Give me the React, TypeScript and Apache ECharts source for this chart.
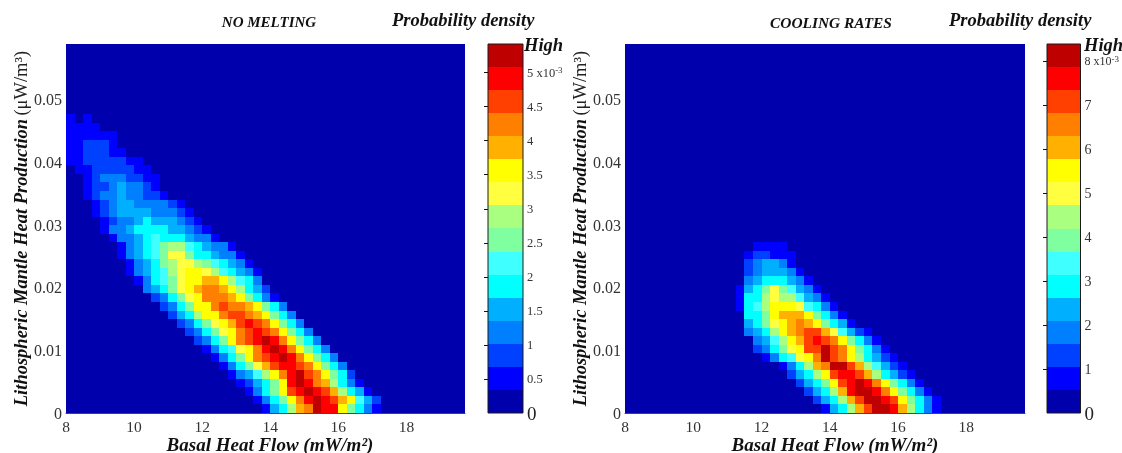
import React, { useEffect, useRef } from "react";
import * as echarts from "echarts";

const FONT = "'Liberation Serif', serif";

const palette = ["#0000ad", "#0000ff", "#0040ff", "#0080ff", "#00b0ff", "#00ffff", "#40ffff", "#80ffa0", "#a8ff80", "#ffff40", "#ffff00", "#ffb000", "#ff8000", "#ff4000", "#ff0000", "#bf0000"];

const xTicks = [8, 10, 12, 14, 16, 18];
const yTicks = [0, 0.01, 0.02, 0.03, 0.04, 0.05];
const X_MIN = 8;
const X_MAX = 19.72;
const Y_MAX = 0.0589;
const X_STEP = 0.25;
const Y_STEP = 0.001363;
const COLS = 47;
const ROWS = 44;

// Each row, bottom to top: first coloured column and the colour level (hex) of each following cell.
const noMeltingRows: [number, string][] = [
  [23, "1458BCFEEA7531"],
  [22, "1357ACEFEDBA642"],
  [21, "1357ADEFEDB8541"],
  [20, "12457AEFECB8531"],
  [19, "13468ACEFDCA752"],
  [18, "13579BDEEDCA753"],
  [17, "1357ACDEFECA753"],
  [16, "13569ACEFECA753"],
  [15, "2357ACDEFECA753"],
  [14, "23579ACDEDCA753"],
  [13, "23579ABDEDCA753"],
  [12, "2458AACDDCBA753"],
  [11, "2357AACDCCBA753"],
  [10, "23579ACCCBA7531"],
  [9, "34579ABCCBA8542"],
  [8, "135679AABBA8653"],
  [7, "1345689AA9865431"],
  [7, "134578998765431"],
  [6, "134567997554331"],
  [6, "13456788654331"],
  [5, "1334565554331"],
  [4, "1334555544321"],
  [4, "123345444321"],
  [3, "123444433321"],
  [3, "12344333321"],
  [2, "1233433221"],
  [2, "122343321"],
  [2, "123332211"],
  [1, "112222211"],
  [0, "112222211"],
  [0, "1122211"],
  [0, "112221"],
  [0, "111111"],
  [0, "1111"],
  [0, "101"],
];

const coolingRows: [number, string][] = [
  [23, "1458BDFFEB8531"],
  [22, "2458BDFFEDA7531"],
  [21, "2458BEFFECA7531"],
  [20, "2457ADEFECA7531"],
  [19, "2458ADEEDB85421"],
  [18, "1358BCFFDB86421"],
  [16, "13569ACFDCA85421"],
  [15, "23579ADDFDCA7531"],
  [15, "3468ABDEDCA7531"],
  [14, "3458ABCDDB96421"],
  [14, "4579ABCBA7541"],
  [14, "557ABBBA7531"],
  [13, "1568AAA96531"],
  [13, "15589886431"],
  [13, "1457976431"],
  [14, "34555431"],
  [14, "2344431"],
  [14, "234431"],
  [14, "122111"],
  [15, "1111"],
];

const leftBarTicks = [0, 0.5, 1, 1.5, 2, 2.5, 3, 3.5, 4, 4.5, 5];
const rightBarTicks = [0, 1, 2, 3, 4, 5, 6, 7, 8];
const LEFT_BAR_MAX = 5.42;
const RIGHT_BAR_MAX = 8.39;

const X_TITLE = "Basal Heat Flow (mW/m²)";
const Y_TITLE = "{a|Lithospheric Mantle Heat Production} {b|(μW/m³)}";
const labels = {
  leftTitle: "NO MELTING",
  rightTitle: "COOLING RATES",
  legend: "Probability density",
  high: "High",
};

function cells(rows: [number, string][]) {
  const out: number[][] = [];
  for (let r = 0; r < ROWS; r++) {
    const row = rows[r];
    for (let c = 0; c < COLS; c++) {
      let lvl = 0;
      if (row) {
        const i = c - row[0];
        if (i >= 0 && i < row[1].length) lvl = parseInt(row[1][i], 16);
      }
      out.push([X_MIN + c * X_STEP, r * Y_STEP, lvl]);
    }
  }
  return out;
}

function rectRender(dx: number, dy: number) {
  return (params: any, api: any) => {
    const a = api.coord([api.value(0), api.value(1)]);
    const b = api.coord([api.value(0) + dx, api.value(1) + dy]);
    const x0 = Math.round(a[0]);
    const x1 = Math.round(b[0]);
    const y0 = Math.round(a[1]);
    const y1 = Math.round(b[1]);
    return {
      type: "rect",
      shape: { x: x0, y: y1, width: x1 - x0, height: y0 - y1 },
      style: { fill: palette[api.value(2)], stroke: null },
    };
  };
}

function buildOption() {
  const grid: any[] = [];
  const xAxis: any[] = [];
  const yAxis: any[] = [];
  const series: any[] = [];

  const addPlot = (left: number, width: number, rows: [number, string][], nameGap: number) => {
    const g = grid.length;
    grid.push({ left, top: 44, width, height: 369 });
    xAxis.push({
      type: "value", gridIndex: g, min: X_MIN, max: X_MAX,
      axisLine: { show: true, onZero: false, lineStyle: { color: "#445", width: 1 } },
      axisTick: { show: false }, splitLine: { show: false },
      axisLabel: { customValues: xTicks, fontFamily: FONT, fontSize: 15.5, color: "#333", margin: 5 },
    });
    yAxis.push({
      type: "value", gridIndex: g, min: 0, max: Y_MAX,
      name: Y_TITLE, nameLocation: "middle", nameGap, nameRotate: 90,
      nameTextStyle: {
        rich: {
          a: { fontFamily: FONT, fontSize: 18.5, fontWeight: "bold", fontStyle: "italic", color: "#111" },
          b: { fontFamily: FONT, fontSize: 18.5, color: "#222" },
        },
      },
      axisLine: { show: false }, axisTick: { show: false }, splitLine: { show: false },
      axisLabel: {
        customValues: yTicks, fontFamily: FONT, fontSize: 16, color: "#333", margin: 4,
        formatter: (v: number) => (v === 0 ? "0" : v.toFixed(2)),
      },
    });
    series.push({
      type: "custom", xAxisIndex: xAxis.length - 1, yAxisIndex: yAxis.length - 1,
      data: cells(rows), renderItem: rectRender(X_STEP, Y_STEP), clip: true, silent: true,
      encode: { x: 0, y: 1 },
    });
  };

  const addBar = (left: number, width: number, max: number, ticks: number[], size: number, topLabel: number, topSize: number) => {
    const g = grid.length;
    const band = max / 16;
    grid.push({ left, top: 44, width, height: 369, show: true, z: 5, backgroundColor: "transparent", borderColor: "#1a1a1a", borderWidth: 1 });
    xAxis.push({ type: "value", gridIndex: g, min: 0, max: 1, show: false });
    const xi = xAxis.length - 1;
    const common = {
      type: "value", gridIndex: g, min: 0, max,
      splitLine: { show: false },
      axisLine: { show: false },
      axisTick: { show: true, inside: true, length: 4, customValues: ticks.filter((t) => t > 0), lineStyle: { color: "#111" } },
    };
    yAxis.push({
      ...common, position: "right",
      axisLabel: {
        customValues: ticks, fontFamily: FONT, fontSize: size, color: "#333", margin: 4,
        formatter: (v: number) => (v === 0 ? "{z|0}" : v === topLabel ? `{t|${v} x10}{s|-3}` : String(v)),
        rich: {
          z: { fontFamily: FONT, fontSize: 19, color: "#222" },
          t: { fontFamily: FONT, fontSize: topSize, color: "#333" },
          s: { fontFamily: FONT, fontSize: 9, color: "#333", padding: [0, 0, 5, 0] },
        },
      },
    });
    const yi = yAxis.length - 1;
    yAxis.push({ ...common, position: "left", axisLabel: { show: false } });
    series.push({
      type: "custom", xAxisIndex: xi, yAxisIndex: yi,
      data: palette.map((_, i) => [0, i * band, i]),
      renderItem: rectRender(1, band), clip: true, silent: true, encode: { x: 0, y: 1 },
    });
  };

  addPlot(66, 399, noMeltingRows, 36);
  addBar(488, 35, LEFT_BAR_MAX, leftBarTicks, 12.5, 5, 12.5);
  addPlot(625, 400, coolingRows, 33);
  addBar(1047, 36, RIGHT_BAR_MAX, rightBarTicks, 14, 8, 12);

  const bi = (text: string, x: number, y: number, size: number, align = "left") => ({
    type: "text", x, y,
    style: { text, x: 0, y: 0, fill: "#111", fontFamily: FONT, fontWeight: "bold", fontStyle: "italic", fontSize: size, align, verticalAlign: "middle" },
  });

  const graphic = [
    bi(labels.leftTitle, 269, 22, 15, "center"),
    bi(labels.rightTitle, 831, 22, 15.4, "center"),
    bi(labels.legend, 392, 20, 18.5),
    bi(labels.legend, 949, 20, 18.5),
    bi(labels.high, 524, 45, 18.5),
    bi(labels.high, 1084, 45, 18.5),
    bi(X_TITLE, 270, 444, 19, "center"),
    bi(X_TITLE, 835, 444, 19, "center"),
  ];

  return { animation: false, backgroundColor: "#fff", grid, xAxis, yAxis, series, graphic };
}

export default function App() {
  const ref = useRef<HTMLDivElement>(null);
  useEffect(() => {
    document.body.style.margin = "0";
    const chart = echarts.init(ref.current!, null, { renderer: "svg" });
    chart.setOption(buildOption() as any);
    return () => chart.dispose();
  }, []);
  return <div ref={ref} style={{ width: 1122, height: 453, filter: "blur(0.45px)" }} />;
}
